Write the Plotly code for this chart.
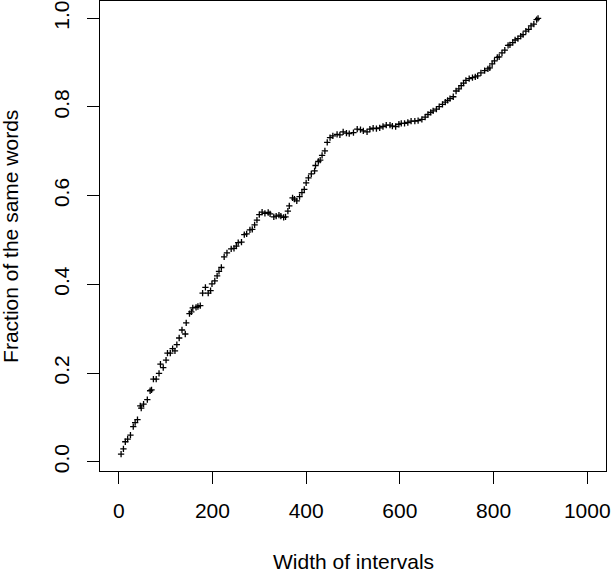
import plotly.graph_objects as go

width_of_intervals = [
    5, 10, 14, 19, 25, 31, 35, 40, 46, 48, 53, 61, 67, 70, 74, 80, 86, 89, 95, 101,
    104, 110, 115, 120, 124, 129, 135, 142, 144, 151, 155, 158, 165, 169, 174, 179, 185, 191, 196, 199,
    205, 210, 214, 219, 225, 231, 240, 246, 251, 255, 262, 268, 273, 280, 285, 290, 295, 300, 306, 312,
    319, 323, 331, 336, 342, 346, 352, 356, 361, 364, 371, 375, 380, 386, 391, 396, 400, 405, 411, 418,
    420, 426, 430, 434, 440, 445, 451, 457, 466, 472, 479, 486, 492, 501, 509, 516, 522, 530, 536, 543,
    550, 557, 564, 571, 579, 584, 591, 598, 603, 610, 617, 624, 632, 639, 647, 654, 660, 666, 671, 678,
    684, 691, 697, 702, 707, 714, 720, 726, 731, 736, 741, 748, 755, 761, 766, 773, 781, 788, 792, 797,
    802, 808, 812, 818, 824, 831, 835, 841, 846, 852, 858, 863, 869, 875, 880, 886, 892, 895,
]

fraction_same_words = [
    0.017, 0.029, 0.045, 0.051, 0.060, 0.079, 0.088, 0.095, 0.126, 0.121, 0.130, 0.140, 0.160, 0.162, 0.186, 0.186, 0.199, 0.220, 0.212, 0.229,
    0.245, 0.245, 0.255, 0.250, 0.264, 0.279, 0.297, 0.288, 0.313, 0.334, 0.338, 0.347, 0.348, 0.350, 0.352, 0.380, 0.393, 0.380, 0.386, 0.401,
    0.408, 0.419, 0.429, 0.438, 0.462, 0.471, 0.480, 0.481, 0.486, 0.494, 0.495, 0.512, 0.514, 0.523, 0.524, 0.534, 0.545, 0.557, 0.563, 0.560,
    0.562, 0.559, 0.552, 0.554, 0.556, 0.554, 0.551, 0.552, 0.565, 0.577, 0.595, 0.592, 0.588, 0.598, 0.607, 0.614, 0.629, 0.640, 0.649, 0.656,
    0.668, 0.677, 0.680, 0.691, 0.701, 0.720, 0.731, 0.735, 0.738, 0.737, 0.744, 0.741, 0.740, 0.742, 0.750, 0.749, 0.746, 0.744, 0.750, 0.752,
    0.751, 0.753, 0.756, 0.759, 0.759, 0.757, 0.756, 0.761, 0.763, 0.763, 0.765, 0.768, 0.768, 0.769, 0.772, 0.777, 0.783, 0.788, 0.791, 0.795,
    0.801, 0.806, 0.811, 0.815, 0.819, 0.823, 0.836, 0.841, 0.848, 0.854, 0.860, 0.864, 0.866, 0.868, 0.870, 0.877, 0.882, 0.886, 0.888, 0.897,
    0.904, 0.912, 0.913, 0.922, 0.928, 0.939, 0.940, 0.945, 0.951, 0.954, 0.960, 0.963, 0.971, 0.975, 0.983, 0.987, 0.997, 1.000,
]

x_ticks = [0, 200, 400, 600, 800, 1000]
y_ticks = [0.0, 0.2, 0.4, 0.6, 0.8, 1.0]
y_tick_labels = ["0.0", "0.2", "0.4", "0.6", "0.8", "1.0"]

FONT = "Liberation Sans, Arial, sans-serif"

fig = go.Figure()
fig.add_trace(go.Scatter(
    x=width_of_intervals,
    y=fraction_same_words,
    mode="markers",
    marker=dict(symbol="cross-thin", size=4.5, color="black",
                line=dict(color="black", width=1.3)),
    showlegend=False,
    hoverinfo="x+y",
))

axis_common = dict(
    showgrid=False, zeroline=False,
    showline=True, linecolor="black", linewidth=1, mirror=True,
    ticks="outside", ticklen=12, tickwidth=1, tickcolor="black",
    tickfont=dict(family=FONT, size=21, color="black"),
)

fig.update_layout(
    width=614, height=572,
    margin=dict(l=100, r=8, t=1, b=101),
    paper_bgcolor="white", plot_bgcolor="white",
    xaxis=dict(range=[-40, 1040], tickvals=x_ticks, ticklabelstandoff=9, **axis_common),
    yaxis=dict(range=[-0.021, 1.039], tickvals=y_ticks, ticktext=y_tick_labels,
               tickangle=-90, ticklabelstandoff=10, **axis_common),
    annotations=[
        dict(text="Width of intervals", xref="paper", yref="paper", x=0.5, y=-0.192,
             xanchor="center", yanchor="middle", showarrow=False,
             font=dict(family=FONT, size=21, color="black")),
        dict(text="Fraction of the same words", xref="paper", yref="paper", x=-0.178, y=0.5,
             xanchor="center", yanchor="middle", textangle=-90, showarrow=False,
             font=dict(family=FONT, size=21, color="black")),
    ],
)

fig.write_html(
    "out.html",
    config={"displayModeBar": False},
    post_script="document.body.style.margin='0';document.body.style.padding='0';",
)
